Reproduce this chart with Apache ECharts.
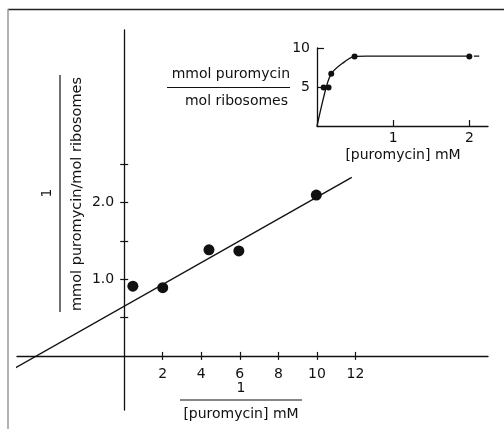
<!DOCTYPE html>
<html><head><meta charset="utf-8">
<script src="https://cdn.jsdelivr.net/npm/echarts@6/dist/echarts.min.js"></script>
<style>html,body{margin:0;padding:0;background:#fff}#c{width:504px;height:429px}</style>
</head><body><div id="c"></div>
<script>
// Main plot (double reciprocal)
const mainX = [0.45, 2.0, 4.4, 5.95, 9.97];
const mainY = [0.91, 0.89, 1.385, 1.37, 2.10];
const fitX = [-5.63, 11.81];
const fitY = [-0.154, 2.33];
const mainXTicks = [2, 4, 6, 8, 10, 12];
const mainYTicks = [0.5, 1.0, 1.5, 2.0, 2.5];
const mainYLabels = [1.0, 2.0];
// Inset (saturation curve)
const insetX = [0.087, 0.152, 0.187, 0.493, 2.0];
const insetY = [4.93, 4.93, 6.69, 8.92, 8.92];
const curveX = [0, 0.12, 0.187, 0.33, 0.493, 0.65, 2.0];
const curveY = [0, 4.93, 6.69, 8.0, 8.92, 8.97, 8.97];
const tailX = [2.06, 2.13];
const tailY = [8.95, 8.95];
const insetXTicks = [1, 2];
const insetYTicks = [5, 10];

const INK = '#111111';
const FONT = 'DejaVu Sans';
const zip = (a, b) => a.map((v, i) => [v, b[i]]);

// main grid geometry and ranges
const G = {left: 17, top: 30, width: 471, height: 380};
const XR = [-5.563, 18.88], YR = [-0.706, 4.254];
// pixel offset of the zero lines from the grid edges
const x0 = G.width * (0 - XR[0]) / (XR[1] - XR[0]);   // from left edge
const y0 = G.height * (YR[1] - 0) / (YR[1] - YR[0]);  // from top edge

const chart = echarts.init(document.getElementById('c'), null, {renderer: 'canvas'});
const lbl = {color: INK, fontFamily: FONT, fontSize: 14};
const tickStyle = {color: INK, width: 1.2};

chart.setOption({
  animation: false,
  backgroundColor: '#fff',
  grid: [
    Object.assign({outerBoundsMode: 'none', containLabel: false}, G),
    {left: 317, width: 171, top: 48, height: 78, outerBoundsMode: 'none', containLabel: false}
  ],
  xAxis: [
    {gridIndex: 0, type: 'value', min: XR[0], max: XR[1], position: 'bottom', offset: -(G.height - y0),
     axisLine: {show: true, onZero: false, lineStyle: {color: INK, width: 1.3}},
     axisTick: {show: true, inside: false, length: 4, customValues: mainXTicks, lineStyle: tickStyle},
     axisLabel: Object.assign({show: true, margin: 11, customValues: mainXTicks}, lbl),
     splitLine: {show: false}},
    {gridIndex: 0, type: 'value', min: XR[0], max: XR[1], position: 'top', offset: -y0,
     axisLine: {show: false, onZero: false},
     axisTick: {show: true, inside: false, length: 4, customValues: mainXTicks, lineStyle: tickStyle},
     axisLabel: {show: false}, splitLine: {show: false}},
    {gridIndex: 1, type: 'value', min: 0, max: 2.245, position: 'bottom',
     axisLine: {show: true, onZero: false, lineStyle: {color: INK, width: 1.3}},
     axisTick: {show: true, inside: true, length: 6, customValues: insetXTicks, lineStyle: tickStyle},
     axisLabel: Object.assign({show: true, margin: 5, customValues: insetXTicks}, lbl),
     splitLine: {show: false}}
  ],
  yAxis: [
    {gridIndex: 0, type: 'value', min: YR[0], max: YR[1], position: 'left', offset: -x0,
     axisLine: {show: true, onZero: false, lineStyle: {color: INK, width: 1.3}},
     axisTick: {show: true, inside: false, length: 4, customValues: mainYTicks, lineStyle: tickStyle},
     axisLabel: Object.assign({show: true, margin: 10, customValues: mainYLabels, formatter: v => v.toFixed(1)}, lbl),
     splitLine: {show: false}},
    {gridIndex: 0, type: 'value', min: YR[0], max: YR[1], position: 'right', offset: -(G.width - x0),
     axisLine: {show: false, onZero: false},
     axisTick: {show: true, inside: false, length: 4, customValues: mainYTicks, lineStyle: tickStyle},
     axisLabel: {show: false}, splitLine: {show: false}},
    {gridIndex: 1, type: 'value', min: 0, max: 10, position: 'left',
     axisLine: {show: true, onZero: false, lineStyle: {color: INK, width: 1.3}},
     axisTick: {show: true, inside: true, length: 7, customValues: insetYTicks, lineStyle: tickStyle},
     axisLabel: Object.assign({show: true, margin: 7, customValues: insetYTicks}, lbl),
     splitLine: {show: false}}
  ],
  series: [
    {type: 'line', xAxisIndex: 0, yAxisIndex: 0, data: zip(fitX, fitY), showSymbol: false, clip: false,
     lineStyle: {color: INK, width: 1.4}, silent: true},
    {type: 'scatter', xAxisIndex: 0, yAxisIndex: 0, data: zip(mainX, mainY), symbol: 'circle', symbolSize: 11,
     itemStyle: {color: INK, opacity: 1}},
    {type: 'line', xAxisIndex: 2, yAxisIndex: 2, data: zip(curveX, curveY), showSymbol: false, smooth: 0.3,
     lineStyle: {color: INK, width: 1.3}},
    {type: 'line', xAxisIndex: 2, yAxisIndex: 2, data: zip(tailX, tailY), showSymbol: false, clip: false,
     lineStyle: {color: INK, width: 1.3}},
    {type: 'scatter', xAxisIndex: 2, yAxisIndex: 2, data: zip(insetX, insetY), symbol: 'circle', symbolSize: 6,
     itemStyle: {color: INK, opacity: 1}}
  ],
  graphic: [
    // frame
    {type: 'line', shape: {x1: 8, y1: 9.5, x2: 504, y2: 9.5}, style: {stroke: '#222', lineWidth: 1.5}},
    {type: 'line', shape: {x1: 8, y1: 9, x2: 8, y2: 429}, style: {stroke: '#999', lineWidth: 1.5}},
    // main x-axis name
    {type: 'text', x: 241, y: 388, style: {text: '1', fontFamily: FONT, fontSize: 14, fill: INK, align: 'center', verticalAlign: 'middle'}},
    {type: 'line', shape: {x1: 180, y1: 400, x2: 302, y2: 400}, style: {stroke: INK, lineWidth: 1.2}},
    {type: 'text', x: 241, y: 414, style: {text: '[puromycin] mM', fontFamily: FONT, fontSize: 14, fill: INK, align: 'center', verticalAlign: 'middle'}},
    // main y-axis name (rotated)
    {type: 'text', x: 47, y: 193, rotation: Math.PI / 2, style: {text: '1', fontFamily: FONT, fontSize: 14, fill: INK, align: 'center', verticalAlign: 'middle'}},
    {type: 'line', shape: {x1: 60, y1: 75, x2: 60, y2: 312}, style: {stroke: INK, lineWidth: 1.2}},
    {type: 'text', x: 77, y: 194, rotation: Math.PI / 2, style: {text: 'mmol puromycin/mol ribosomes', fontFamily: FONT, fontSize: 14.5, fill: INK, align: 'center', verticalAlign: 'middle'}},
    // inset y name
    {type: 'text', x: 290, y: 74, style: {text: 'mmol puromycin', fontFamily: FONT, fontSize: 14, fill: INK, align: 'right', verticalAlign: 'middle'}},
    {type: 'line', shape: {x1: 167, y1: 87.5, x2: 290, y2: 87.5}, style: {stroke: INK, lineWidth: 1.2}},
    {type: 'text', x: 288, y: 101, style: {text: 'mol ribosomes', fontFamily: FONT, fontSize: 14, fill: INK, align: 'right', verticalAlign: 'middle'}},
    // inset x name
    {type: 'text', x: 403, y: 155, style: {text: '[puromycin] mM', fontFamily: FONT, fontSize: 14, fill: INK, align: 'center', verticalAlign: 'middle'}}
  ]
});
</script></body></html>
